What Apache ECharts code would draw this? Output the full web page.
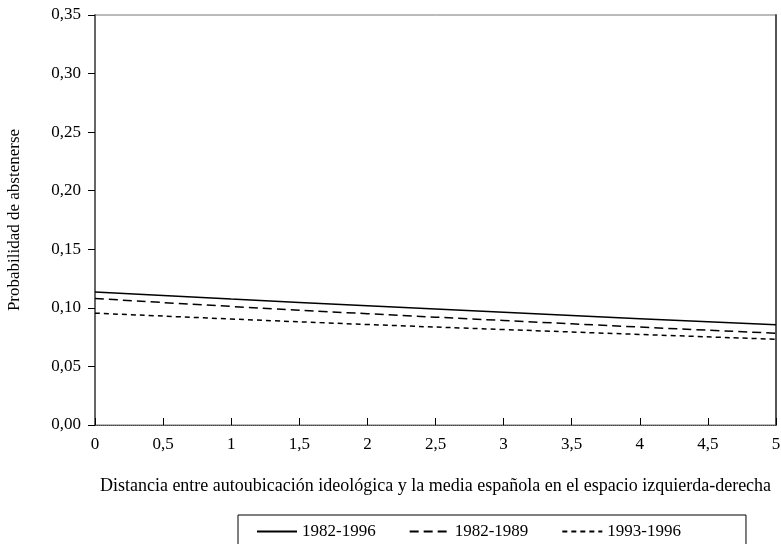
<!DOCTYPE html>
<html>
<head>
<meta charset="utf-8">
<script src="https://cdn.jsdelivr.net/npm/echarts@6/dist/echarts.min.js"></script>
<style>html,body{margin:0;padding:0;background:#fff}#c{width:781px;height:544px}</style>
</head>
<body>
<div id="c"></div>
<script>
const xValues = [0, 1, 2, 3, 4, 5];
const s1982_1996 = [0.1135, 0.1075, 0.1018, 0.0962, 0.0908, 0.0855];
const s1982_1989 = [0.1080, 0.1012, 0.0950, 0.0892, 0.0836, 0.0783];
const s1993_1996 = [0.0955, 0.0905, 0.0858, 0.0815, 0.0773, 0.0732];
const seriesNames = ['1982-1996', '1982-1989', '1993-1996'];
const xTitle = 'Distancia entre autoubicación ideológica y la media española en el espacio izquierda-derecha';
const yTitle = 'Probabilidad de abstenerse';

const font = '"Liberation Serif", "DejaVu Serif", serif';
const comma = v => String(v).replace('.', ',');
const pair = arr => xValues.map((x, i) => [x, arr[i]]);

const chart = echarts.init(document.getElementById('c'));
chart.setOption({
  animation: false,
  textStyle: { fontFamily: font, color: '#000' },
  grid: { left: 95, right: 5, top: 15, bottom: 119, outerBoundsMode: 'none', containLabel: false,
          show: true, borderColor: '#777', borderWidth: 1, backgroundColor: 'transparent' },
  legend: {
    top: 515,
    left: 238,
    padding: [8, 65, 20, 18],
    borderColor: '#000',
    borderWidth: 1,
    itemWidth: 40,
    itemHeight: 14,
    itemGap: 33,
    itemStyle: { opacity: 0 },
    textStyle: { fontFamily: font, fontSize: 17, color: '#000' },
    data: seriesNames
  },
  xAxis: [{
    type: 'value', min: 0, max: 5, interval: 0.5,
    name: xTitle, nameLocation: 'middle', nameGap: 52,
    nameTextStyle: { fontFamily: font, fontSize: 18, color: '#000' },
    axisLine: { show: true, lineStyle: { color: '#444', type: 'dotted', width: 1 } },
    axisTick: { inside: true, length: 7, lineStyle: { color: '#000' } },
    axisLabel: { formatter: comma, fontFamily: font, fontSize: 17, color: '#000', margin: 11 },
    splitLine: { show: false }
  }],
  yAxis: [{
    type: 'value', min: 0, max: 0.35, interval: 0.05,
    name: yTitle, nameLocation: 'middle', nameGap: 72, nameRotate: 90,
    nameTextStyle: { fontFamily: font, fontSize: 17, color: '#000' },
    axisLine: { show: true, lineStyle: { color: '#666', width: 2 } },
    axisTick: { show: true, inside: false, length: 7, lineStyle: { color: '#000' } },
    axisLabel: { formatter: v => v.toFixed(2).replace('.', ','), fontFamily: font, fontSize: 17, color: '#000', margin: 14 },
    splitLine: { show: false }
  }, {
    type: 'value', min: 0, max: 0.35, interval: 0.05, position: 'right',
    axisLine: { show: true, lineStyle: { color: '#555', width: 2 } },
    axisTick: { show: false }, axisLabel: { show: false }, splitLine: { show: false }
  }],
  series: [
    { name: seriesNames[0], type: 'line', data: pair(s1982_1996), symbol: 'none', smooth: true,
      lineStyle: { color: '#000', width: 1.5, type: 'solid' }, itemStyle: { color: '#000' } },
    { name: seriesNames[1], type: 'line', data: pair(s1982_1989), symbol: 'none', smooth: true,
      lineStyle: { color: '#000', width: 1.5, type: [9, 5] }, itemStyle: { color: '#000' } },
    { name: seriesNames[2], type: 'line', data: pair(s1993_1996), symbol: 'none', smooth: true,
      lineStyle: { color: '#000', width: 1.5, type: [5, 4] }, itemStyle: { color: '#000' } }
  ]
});
</script>
</body>
</html>
